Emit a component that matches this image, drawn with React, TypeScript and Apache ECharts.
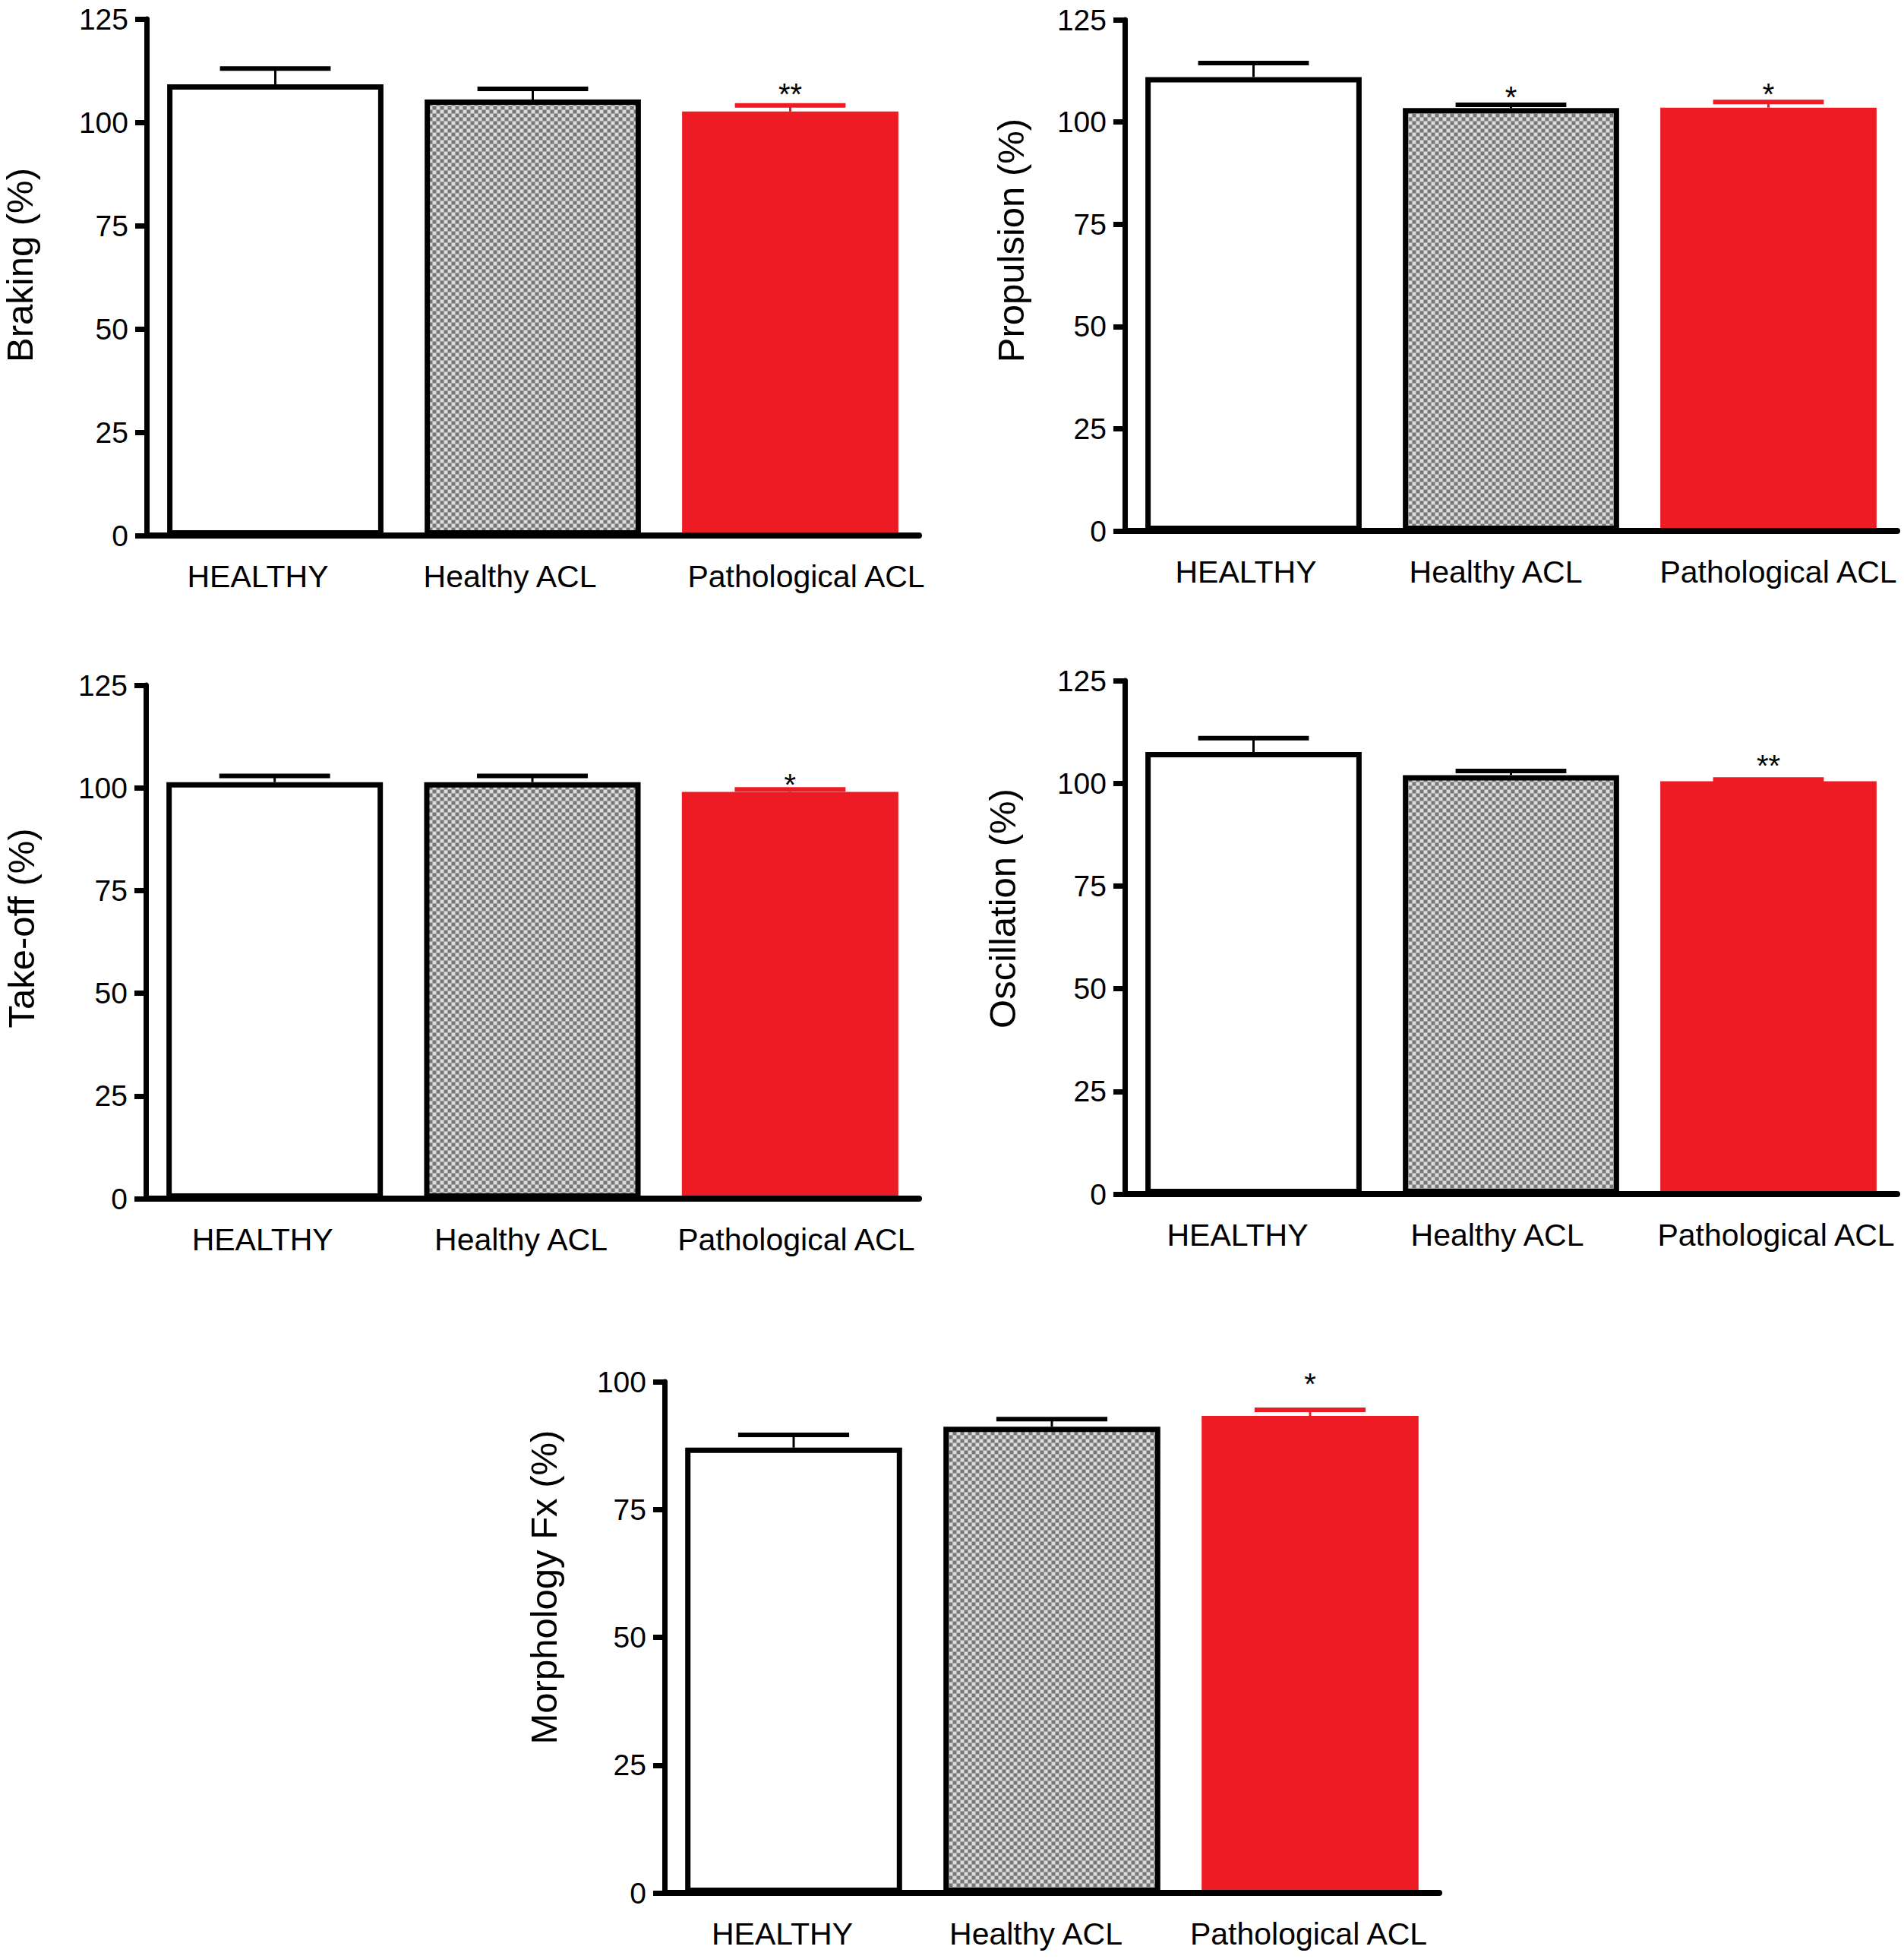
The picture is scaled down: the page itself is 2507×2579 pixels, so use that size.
import { useEffect, useRef } from 'react';
import * as echarts from 'echarts';

const categories = ['HEALTHY', 'Healthy ACL', 'Pathological ACL'];

const brakingMean = [109.2, 105.5, 102.6];
const brakingErr = [3.8, 2.6, 1.5];
const brakingSig = ['', '', '**'];

const propulsionMean = [111.0, 103.4, 103.5];
const propulsionErr = [3.4, 0.8, 1.4];
const propulsionSig = ['', '*', '*'];

const takeoffMean = [101.4, 101.4, 99.0];
const takeoffErr = [1.5, 1.5, 0.6];
const takeoffSig = ['', '', '*'];

const oscillationMean = [107.6, 102.0, 100.5];
const oscillationErr = [3.4, 1.0, 0.4];
const oscillationSig = ['', '', '**'];

const morphologyMean = [87.1, 91.2, 93.3];
const morphologyErr = [2.5, 1.5, 1.2];
const morphologySig = ['', '', '*'];

const RED = '#ED1C24';
const FONT = "'Liberation Sans', Arial, Helvetica, sans-serif";

// panel layout in page pixels (labelDx: horizontal nudge of category labels, nameUp: nudge of axis title)
const panels = [
  { name: 'Braking (%)', mean: brakingMean, err: brakingErr, sig: brakingSig, max: 125, left: 192, right: 1210, top: 25, bottom: 705, starGap: 25, nameGap: 143, nameUp: 16, labelDx: [-23, -30, 21] },
  { name: 'Propulsion (%)', mean: propulsionMean, err: propulsionErr, sig: propulsionSig, max: 125, left: 1481, right: 2498, top: 26, bottom: 699, starGap: 20, nameGap: 126, nameUp: 46, labelDx: [-10, -20, 13] },
  { name: 'Take-off (%)', mean: takeoffMean, err: takeoffErr, sig: takeoffSig, max: 125, left: 192, right: 1210, top: 902, bottom: 1578, starGap: 16, nameGap: 140, nameUp: 18, labelDx: [-16, -15, 8] },
  { name: 'Oscillation (%)', mean: oscillationMean, err: oscillationErr, sig: oscillationSig, max: 125, left: 1481, right: 2498, top: 896, bottom: 1572, starGap: 28, nameGap: 137, nameUp: 38, labelDx: [-21, -18, 10] },
  { name: 'Morphology Fx (%)', mean: morphologyMean, err: morphologyErr, sig: morphologySig, max: 100, left: 875, right: 1895, top: 1819, bottom: 2492, starGap: 44, nameGap: 135, nameUp: 66, labelDx: [-15, -21, -2] },
];

function makePattern() {
  const c = document.createElement('canvas');
  c.width = 10;
  c.height = 10;
  const ctx = c.getContext('2d')!;
  ctx.fillStyle = '#a8a8a8';
  ctx.fillRect(0, 0, 10, 10);
  ctx.fillStyle = '#787878';
  ctx.fillRect(0, 0, 4, 4);
  ctx.fillRect(5, 5, 4, 4);
  ctx.fillStyle = '#dcdcdc';
  ctx.fillRect(5, 0, 4, 4);
  ctx.fillRect(0, 5, 4, 4);
  return { image: c.toDataURL(), repeat: 'repeat' };
}

export default function App() {
  const chartRef = useRef<HTMLDivElement>(null);

  useEffect(() => {
    if (!chartRef.current) return;
    document.body.style.margin = '0';
    const chart = echarts.init(chartRef.current, null, { renderer: 'svg' });
    const pattern = makePattern();

    const barStyles = [
      { color: '#ffffff', borderColor: '#000', borderWidth: 7 },
      { color: pattern, borderColor: '#000', borderWidth: 7 },
      { color: RED, borderWidth: 0 },
    ];

    const labelText = { color: '#000', fontSize: 41, fontFamily: FONT };

    const option: any = {
      animation: false,
      backgroundColor: '#ffffff',
      grid: panels.map((p) => ({
        left: p.left,
        top: p.top,
        width: p.right - p.left,
        height: p.bottom - p.top,
      })),
      xAxis: panels.map((p, i) => ({
        gridIndex: i,
        type: 'category',
        data: categories,
        z: 5,
        axisLine: { lineStyle: { color: '#000', width: 8 } },
        axisTick: { show: false },
        axisLabel: {
          ...labelText,
          margin: 33,
          interval: 0,
          formatter: (v: string, idx: number) => `{c${idx}|${v}}`,
          rich: Object.fromEntries(
            p.labelDx.map((dx, k) => [
              `c${k}`,
              { ...labelText, padding: dx >= 0 ? [0, 0, 0, 2 * dx] : [0, -2 * dx, 0, 0] },
            ])
          ),
        },
      })),
      yAxis: panels.map((p, i) => ({
        gridIndex: i,
        type: 'value',
        min: 0,
        max: p.max,
        interval: 25,
        name: p.name,
        nameLocation: 'middle',
        nameGap: p.nameGap,
        nameTextStyle: { color: '#000', fontSize: 49, fontFamily: FONT, padding: [0, 0, 0, 2 * p.nameUp] },
        axisLine: { show: true, lineStyle: { color: '#000', width: 7 } },
        axisTick: { show: true, length: 15, lineStyle: { color: '#000', width: 7 } },
        axisLabel: { color: '#000', fontSize: 39, fontFamily: FONT, margin: 24 },
        splitLine: { show: false },
      })),
      series: panels.flatMap((p, i) => [
        {
          type: 'bar',
          xAxisIndex: i,
          yAxisIndex: i,
          barWidth: '84%',
          data: p.mean.map((v, j) => ({ value: v, itemStyle: barStyles[j] })),
        },
        {
          type: 'custom',
          xAxisIndex: i,
          yAxisIndex: i,
          z: 3,
          data: p.mean.map((v, j) => [j, v, p.err[j]]),
          renderItem: (params: any, api: any) => {
            const j = api.value(0);
            const m = api.value(1);
            const e = api.value(2);
            const base = api.coord([j, m]);
            const top = api.coord([j, m + e]);
            const half = api.size([1, 0])[0] * 0.215;
            const col = j === 2 ? RED : '#000';
            const children: any[] = [
              { type: 'line', shape: { x1: base[0], y1: base[1], x2: top[0], y2: top[1] }, style: { stroke: col, lineWidth: 3 } },
              { type: 'line', shape: { x1: top[0] - half, y1: top[1], x2: top[0] + half, y2: top[1] }, style: { stroke: col, lineWidth: 6 } },
            ];
            const s = p.sig[params.dataIndex];
            if (s) {
              children.push({
                type: 'text',
                x: top[0],
                y: top[1] - p.starGap + 10,
                style: { text: s, fontSize: 40, fontFamily: FONT, fill: '#000', align: 'center', verticalAlign: 'middle' },
              });
            }
            return { type: 'group', children };
          },
        },
      ]),
    };

    chart.setOption(option);
    return () => {
      chart.dispose();
    };
  }, []);

  return <div ref={chartRef} style={{ width: 2507, height: 2579 }} />;
}
